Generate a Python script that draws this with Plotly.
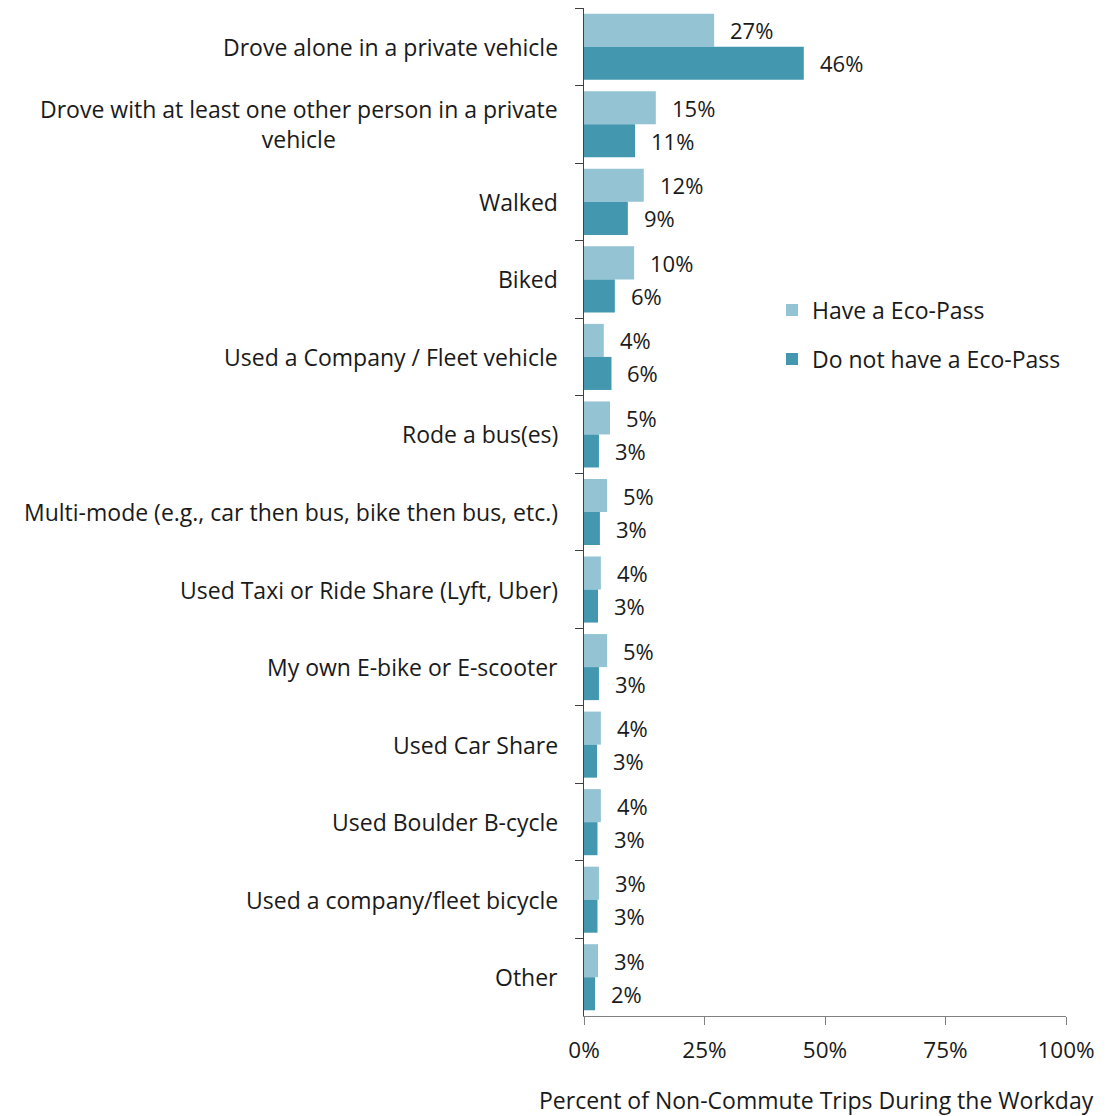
import plotly.graph_objects as go

# Travel modes, listed top to bottom
modes = [
    "Drove alone in a private vehicle",
    "Drove with at least one other person in a private<br>vehicle",
    "Walked",
    "Biked",
    "Used a Company / Fleet vehicle",
    "Rode a bus(es)",
    "Multi-mode (e.g., car then bus, bike then bus, etc.)",
    "Used Taxi or Ride Share (Lyft, Uber)",
    "My own E-bike or E-scooter",
    "Used Car Share",
    "Used Boulder B-cycle",
    "Used a company/fleet bicycle",
    "Other",
]

# Share of non-commute workday trips (%)
have_pass = [27.0, 14.9, 12.4, 10.4, 4.1, 5.4, 4.8, 3.5, 4.8, 3.5, 3.5, 3.1, 2.9]
no_pass = [45.6, 10.6, 9.1, 6.4, 5.7, 3.1, 3.3, 2.9, 3.1, 2.7, 2.8, 2.8, 2.3]

x_ticks = [0, 25, 50, 75, 100]
x_tick_labels = ["0%", "25%", "50%", "75%", "100%"]
x_title = "Percent of Non-Commute Trips During the Workday"

series_names = ["Have a Eco-Pass", "Do not have a Eco-Pass"]
LIGHT = "#94C3D4"
DARK = "#4398B0"
FONT = "Open Sans"
FS = 23
FS_VAL = 22
TEXT = "#1a1a1a"

fig = go.Figure()
fig.add_trace(go.Bar(
    y=modes, x=have_pass, orientation="h", name=series_names[0],
    marker=dict(color=LIGHT, line=dict(width=0)), legendgroup="a",
))
fig.add_trace(go.Bar(
    y=modes, x=no_pass, orientation="h", name=series_names[1],
    marker=dict(color=DARK, line=dict(width=0)), legendgroup="b",
))

annotations = []
# Category labels (centered multi-line text, right-aligned block)
for m in modes:
    annotations.append(dict(
        x=0, xref="paper", y=m, yref="y", text=m, showarrow=False,
        xanchor="right", yanchor="middle", xshift=-24, align="center",
        font=dict(family=FONT, size=FS, color=TEXT),
    ))
# Value labels beside each bar
for vals, shift in ((have_pass, 16.5), (no_pass, -16.5)):
    for m, v in zip(modes, vals):
        annotations.append(dict(
            x=v, xref="x", y=m, yref="y", text=f"{round(v):.0f}%",
            showarrow=False, xanchor="left", yanchor="middle",
            xshift=14, yshift=shift,
            font=dict(family=FONT, size=FS_VAL, color=TEXT),
        ))
# X-axis title, set slightly left of the plot centre
annotations.append(dict(
    x=0.483, xref="paper", y=0, yref="paper", text=x_title,
    showarrow=False, xanchor="center", yanchor="middle", yshift=-84,
    font=dict(family=FONT, size=FS, color=TEXT),
))

fig.update_layout(
    width=1108, height=1116,
    margin=dict(l=584, r=42, t=8, b=100),
    paper_bgcolor="white", plot_bgcolor="white",
    barmode="group", bargap=0.148, bargroupgap=0,
    font=dict(family=FONT, size=FS, color=TEXT),
    showlegend=True,
    legend=dict(
        x=0.39, y=0.676, xanchor="left", yanchor="middle",
        traceorder="grouped", tracegroupgap=16,
        font=dict(family=FONT, size=FS, color=TEXT),
        itemwidth=30, bgcolor="rgba(0,0,0,0)",
    ),
    annotations=annotations,
)
fig.update_yaxes(
    type="category", autorange="reversed",
    showticklabels=False, tickson="boundaries",
    ticks="outside", ticklen=8, tickcolor="#404040",
    showline=True, linecolor="#404040", linewidth=1,
    showgrid=False, zeroline=False,
)
fig.update_xaxes(
    range=[0, 100], tickvals=x_ticks, ticktext=x_tick_labels,
    ticks="outside", ticklen=8, tickcolor="#808080",
    showline=True, linecolor="#808080", linewidth=1,
    showgrid=False, zeroline=False, ticklabelstandoff=6,
    tickfont=dict(family=FONT, size=22.5, color=TEXT),
)

fig.write_html("out.html")
